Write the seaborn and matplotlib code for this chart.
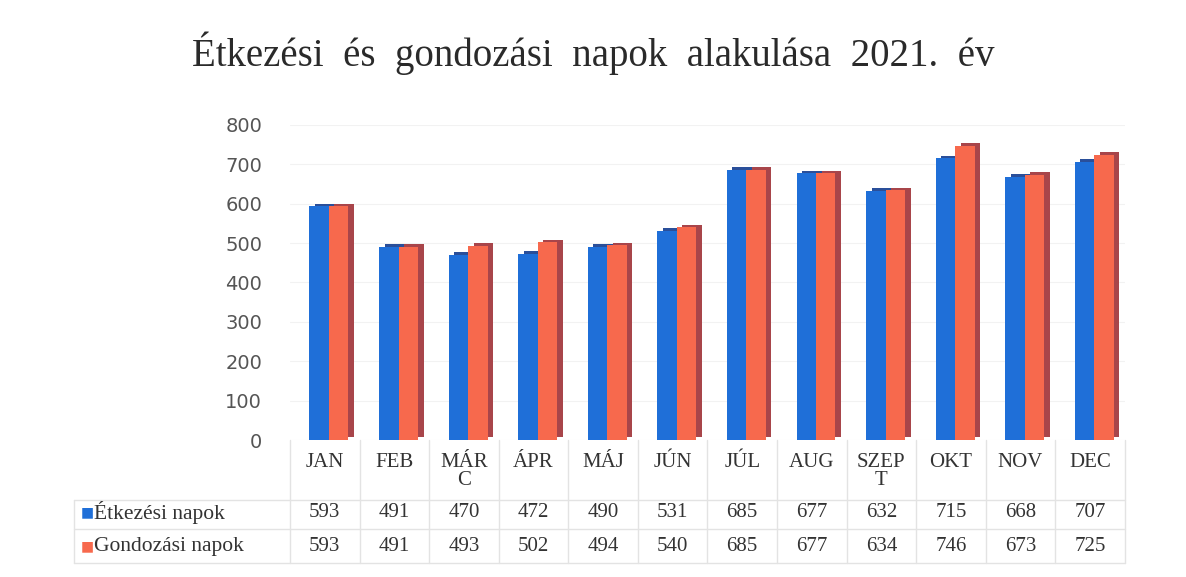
import matplotlib
matplotlib.use("Agg")
import matplotlib.patheffects as pe
import matplotlib.pyplot as plt
import matplotlib.transforms as mtransforms
import pandas as pd
import seaborn as sns

months = ["JAN", "FEB", "MÁR\nC", "ÁPR", "MÁJ", "JÚN", "JÚL", "AUG", "SZEP\nT", "OKT", "NOV", "DEC"]
etkezesi = [593, 491, 470, 472, 490, 531, 685, 677, 632, 715, 668, 707]
gondozasi = [593, 491, 493, 502, 494, 540, 685, 677, 634, 746, 673, 725]
series_names = ["Étkezési napok", "Gondozási napok"]
colors = ["#1f6fd8", "#f7694d"]
side_colors = ["#2a4f9a", "#a8454a"]

df = pd.DataFrame({
    "month": months * 2,
    "value": etkezesi + gondozasi,
    "series": [series_names[0]] * len(months) + [series_names[1]] * len(months),
})

sns.set_style("white")
serif = ["Liberation Serif", "DejaVu Serif"]

fig = plt.figure(figsize=(11.86, 5.77), dpi=100)
ax = fig.add_axes([0.2445, 0.2374, 0.704, 0.546])

sns.barplot(data=df, x="month", y="value", hue="series", order=months,
            hue_order=series_names, palette=colors, width=0.56,
            saturation=1, ax=ax, legend=False)

# fake 3D side face
for container, sc in zip(ax.containers, side_colors):
    for bar in container:
        bar.set_edgecolor("none")
        bar.set_x(bar.get_x() + 0.06)
        bar.set_path_effects([
            pe.withSimplePatchShadow(offset=(4, 2), shadow_rgbFace=sc, alpha=1.0),
            pe.Normal(),
        ])

ax.set_xlim(-0.5, len(months) - 0.5)
ax.set_ylim(0, 800)
ax.set_yticks(range(0, 801, 100))
ax.set_xlabel("")
ax.set_ylabel("")
ax.grid(axis="y", color="#f2f2f2", linewidth=0.8)
ax.set_axisbelow(True)
sns.despine(ax=ax, left=True, bottom=True)
ax.tick_params(axis="y", length=0, pad=20, labelsize=14, labelcolor="#555555")
ax.tick_params(axis="x", length=0, pad=9)
for lbl in ax.get_xticklabels():
    lbl.set_fontfamily(serif)
    lbl.set_fontsize(15)
    lbl.set_color("#333333")
    lbl.set_linespacing(0.95)

fig.suptitle("Étkezési  és  gondozási  napok  alakulása  2021.  év",
             fontsize=28, family=serif, color="#2a2a2a", y=0.945)

# data table below the axis
data_tr = mtransforms.blended_transform_factory(ax.transData, ax.transAxes)
fig_tr = mtransforms.blended_transform_factory(fig.transFigure, ax.transAxes)
line_kw = dict(color="#e3e3e3", linewidth=1, clip_on=False)

row_y = [-0.229, -0.337]
row_lines = [-0.19, -0.283, -0.39]
for i in range(len(months) + 1):
    ax.plot([i - 0.5, i - 0.5], [0, row_lines[-1]], transform=data_tr, **line_kw)
for y in row_lines:
    ax.plot([0.062, 0.9486], [y, y], transform=fig_tr, **line_kw)
ax.plot([0.062, 0.062], [row_lines[0], row_lines[-1]], transform=fig_tr, **line_kw)

for vals, name, col, y in zip([etkezesi, gondozasi], series_names, colors, row_y):
    ax.text(0.068, y, "■", transform=fig_tr, color=col, fontsize=10,
            va="center", ha="left")
    ax.text(0.079, y, name, transform=fig_tr, family=serif, fontsize=15.5,
            color="#333333", va="center", ha="left")
    for i, v in enumerate(vals):
        ax.text(i, y, str(v), transform=data_tr, family=serif, fontsize=15,
                color="#333333", va="center", ha="center")

fig.savefig("out.png", dpi=100, facecolor="white")
